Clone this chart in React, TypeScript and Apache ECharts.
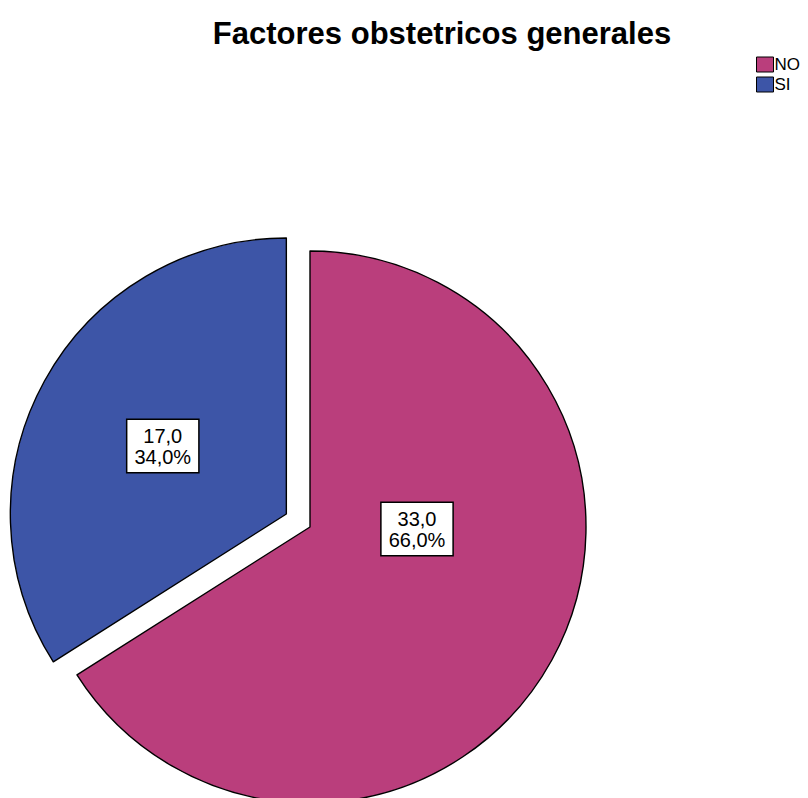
import React, { useEffect, useRef } from "react";
import * as echarts from "echarts";

const title = "Factores obstetricos generales";
const categories = ["NO", "SI"];
const counts = [33, 17];
const colors = ["#BA3E7C", "#3D55A7"];

const fmt = (v: number) => v.toFixed(1).replace(".", ",");

export default function App() {
  const ref = useRef<HTMLDivElement>(null);
  useEffect(() => {
    document.body.style.margin = "0";
    const chart = echarts.init(ref.current!, null, { renderer: "svg" });
    const labelPos: Record<number, [number, number]> = { 0: [417, 529], 1: [164, 441] };
    chart.setOption({
      animation: false,
      backgroundColor: "#ffffff",
      title: {
        text: title,
        left: 437,
        textAlign: "center",
        top: 13,
        textStyle: {
          fontFamily: "Liberation Sans, Arial, sans-serif",
          fontSize: 31,
          fontWeight: "bold",
          color: "#000",
        },
      },
      legend: {
        orient: "vertical",
        left: 751,
        top: 51,
        itemWidth: 17,
        itemHeight: 15,
        itemGap: 3,
        icon: "rect",
        selectedMode: false,
        itemStyle: { borderColor: "#000", borderWidth: 1 },
        textStyle: {
          fontFamily: "Liberation Sans, Arial, sans-serif",
          fontSize: 17,
          color: "#000",
          padding: [0, 0, 0, -4],
        },
        data: categories,
      },
      series: [
        {
          type: "pie",
          center: [310, 527],
          radius: 276,
          startAngle: 90,
          clockwise: true,
          selectedMode: "multiple",
          selectedOffset: 27,
          avoidLabelOverlap: false,
          emphasis: { disabled: true },
          silent: true,
          itemStyle: { borderColor: "#000", borderWidth: 1.4 },
          label: {
            show: true,
            position: "inside",
            formatter: (p: any) => `${fmt(p.value)}\n${fmt(p.percent)}%`,
            fontFamily: "Liberation Sans, Arial, sans-serif",
            fontSize: 20,
            lineHeight: 21,
            color: "#000",
            backgroundColor: "#fff",
            borderColor: "#000",
            borderWidth: 1.5,
            padding: [5, 7, 5, 7],
            align: "center",
            verticalAlign: "middle",
          },
          labelLine: { show: false },
          labelLayout: (params: any) => {
            const pos = labelPos[params.dataIndex];
            return { x: pos[0], y: pos[1], align: "center", verticalAlign: "middle" };
          },
          data: categories.map((c, i) => ({
            name: c,
            value: counts[i],
            selected: c === "SI",
            itemStyle: { color: colors[i] },
          })),
        },
      ],
    });
    return () => chart.dispose();
  }, []);
  return <div ref={ref} style={{ width: 808, height: 798, position: "absolute", left: 0, top: 0 }} />;
}
